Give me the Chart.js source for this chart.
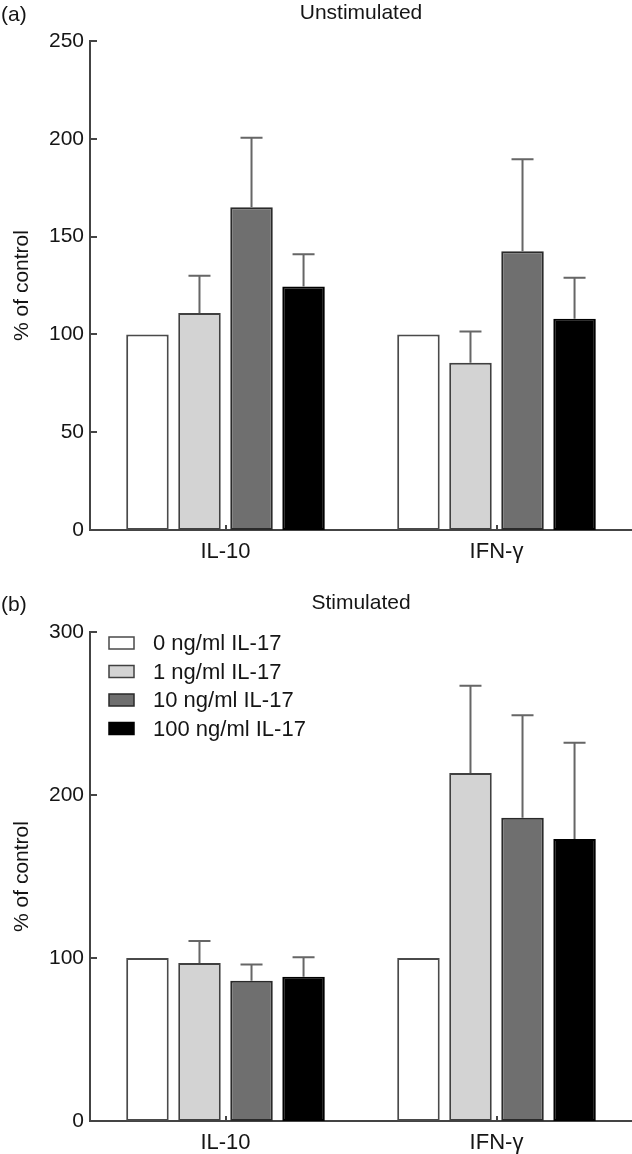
<!DOCTYPE html>
<html>
<head>
<meta charset="utf-8">
<script src="https://cdn.jsdelivr.net/npm/chart.js@4.4.1/dist/chart.umd.min.js"></script>
<style>
html, body { margin: 0; padding: 0; background: #fff; }
body { width: 632px; height: 1154px; position: relative; overflow: hidden; }
.panel { position: absolute; left: 0; width: 632px; }
#panelA { top: 0; height: 575px; }
#panelB { top: 590px; height: 564px; }
</style>
</head>
<body>
<div class="panel" id="panelA"><canvas id="chartA"></canvas></div>
<div class="panel" id="panelB"><canvas id="chartB"></canvas></div>
<script>
var cytokines = ['IL-10', 'IFN-γ'];
var doseLabels = ['0 ng/ml IL-17', '1 ng/ml IL-17', '10 ng/ml IL-17', '100 ng/ml IL-17'];
var doseColors = ['#ffffff', '#d3d3d3', '#6f6f6f', '#000000'];
var doseBorders = ['#4a4a4a', '#404040', '#2a2a2a', '#000000'];

// (a) unstimulated, % of control, one value per dose
var unstimIL10 = [100, 111, 165, 124.5];
var unstimIL10Err = [0, 19, 35.5, 16.5];
var unstimIFNg = [100, 85.5, 142.5, 108];
var unstimIFNgErr = [0, 16, 47, 21];

// (b) stimulated
var stimIL10 = [100, 97, 86, 88.5];
var stimIL10Err = [0, 13.5, 10, 12];
var stimIFNg = [100, 213.5, 186, 173];
var stimIFNgErr = [0, 53.5, 63, 59];

var ticksA = [0, 50, 100, 150, 200, 250];
var ticksB = [0, 100, 200, 300];

Chart.defaults.font.family = '"Liberation Sans", Arial, sans-serif';
Chart.defaults.font.size = 21;
Chart.defaults.color = '#151515';

// error bars, inward ticks, panel letter, title and key
var decoPlugin = {
    id: 'deco',
    afterDatasetsDraw: function(chart) {
        var ctx = chart.ctx;
        var yScale = chart.scales.y;
        ctx.save();
        ctx.strokeStyle = '#666';
        ctx.lineWidth = 2;
        chart.data.datasets.forEach(function(ds, i) {
            var meta = chart.getDatasetMeta(i);
            meta.data.forEach(function(bar, j) {
                var err = ds.errors[j];
                if (!err) {
                    return;
                }
                var yTop = yScale.getPixelForValue(ds.data[j] + err);
                ctx.beginPath();
                ctx.moveTo(bar.x, bar.y);
                ctx.lineTo(bar.x, yTop);
                ctx.moveTo(bar.x - 11, yTop);
                ctx.lineTo(bar.x + 11, yTop);
                ctx.stroke();
            });
        });
        ctx.restore();
    },
    afterDraw: function(chart, args, opts) {
        var ctx = chart.ctx;
        var area = chart.chartArea;
        var yScale = chart.scales.y;
        var xScale = chart.scales.x;
        ctx.save();
        ctx.strokeStyle = '#444';
        ctx.lineWidth = 2;
        ctx.beginPath();
        yScale.ticks.forEach(function(t) {
            var py = Math.round(yScale.getPixelForValue(t.value));
            ctx.moveTo(area.left, py);
            ctx.lineTo(area.left + 7, py);
        });
        for (var j = 0; j < chart.data.labels.length; j++) {
            var px = Math.round(xScale.getPixelForValue(j));
            ctx.moveTo(px, area.bottom);
            ctx.lineTo(px, area.bottom - 5);
        }
        ctx.stroke();

        ctx.fillStyle = '#151515';
        ctx.font = '21px "Liberation Sans", Arial, sans-serif';
        ctx.textBaseline = 'middle';
        ctx.textAlign = 'left';
        ctx.fillText(opts.letter, 1, 15);
        ctx.textAlign = 'center';
        ctx.fillText(opts.title, (area.left + area.right) / 2, 13);

        if (opts.showKey) {
            var x0 = area.left + 19;
            var y0 = area.top + 11;
            ctx.font = '22px "Liberation Sans", Arial, sans-serif';
            ctx.textAlign = 'left';
            chart.data.datasets.forEach(function(ds, i) {
                var cy = y0 + i * 28.5;
                ctx.fillStyle = ds.backgroundColor;
                ctx.fillRect(x0, cy - 6, 25, 12);
                ctx.strokeStyle = ds.borderColor;
                ctx.lineWidth = 1.5;
                ctx.strokeRect(x0, cy - 6, 25, 12);
                ctx.fillStyle = '#151515';
                ctx.fillText(ds.label, x0 + 44, cy + 1);
            });
        }
        ctx.restore();
    }
};

function buildDatasets(il10, il10Err, ifng, ifngErr) {
    var sets = [];
    for (var i = 0; i < doseLabels.length; i++) {
        sets.push({
            label: doseLabels[i],
            data: [il10[i], ifng[i]],
            errors: [il10Err[i], ifngErr[i]],
            backgroundColor: doseColors[i],
            borderColor: doseBorders[i],
            borderWidth: 2,
            borderSkipped: false,
            categoryPercentage: 0.768,
            barPercentage: 0.817
        });
    }
    return sets;
}

function makeChart(id, datasets, ticks, padTop, xHeight, letter, title, showKey) {
    var ctx = document.getElementById(id).getContext('2d');
    return new Chart(ctx, {
        type: 'bar',
        data: {
            labels: cytokines,
            datasets: datasets
        },
        options: {
            responsive: true,
            maintainAspectRatio: false,
            animation: false,
            events: [],
            layout: {
                padding: { top: padTop, left: 0, right: 0, bottom: 0 }
            },
            plugins: {
                legend: { display: false },
                tooltip: { enabled: false },
                deco: { letter: letter, title: title, showKey: showKey }
            },
            scales: {
                x: {
                    grid: { display: false, drawTicks: false },
                    border: { color: '#444', width: 2 },
                    ticks: { padding: 9, font: { size: 22 } },
                    afterFit: function(scale) {
                        scale.height = xHeight;
                    }
                },
                y: {
                    min: ticks[0],
                    max: ticks[ticks.length - 1],
                    grid: { display: false, drawTicks: false },
                    border: { color: '#444', width: 2 },
                    ticks: { stepSize: ticks[1] - ticks[0], padding: 6 },
                    title: {
                        display: true,
                        text: '% of control',
                        padding: { top: 10, bottom: 0 }
                    },
                    afterFit: function(scale) {
                        scale.width = 90;
                    }
                }
            }
        },
        plugins: [decoPlugin]
    });
}

makeChart('chartA', buildDatasets(unstimIL10, unstimIL10Err, unstimIFNg, unstimIFNgErr),
    ticksA, 41, 45, '(a)', 'Unstimulated', false);
makeChart('chartB', buildDatasets(stimIL10, stimIL10Err, stimIFNg, stimIFNgErr),
    ticksB, 42, 33, '(b)', 'Stimulated', true);
</script>
</body>
</html>
